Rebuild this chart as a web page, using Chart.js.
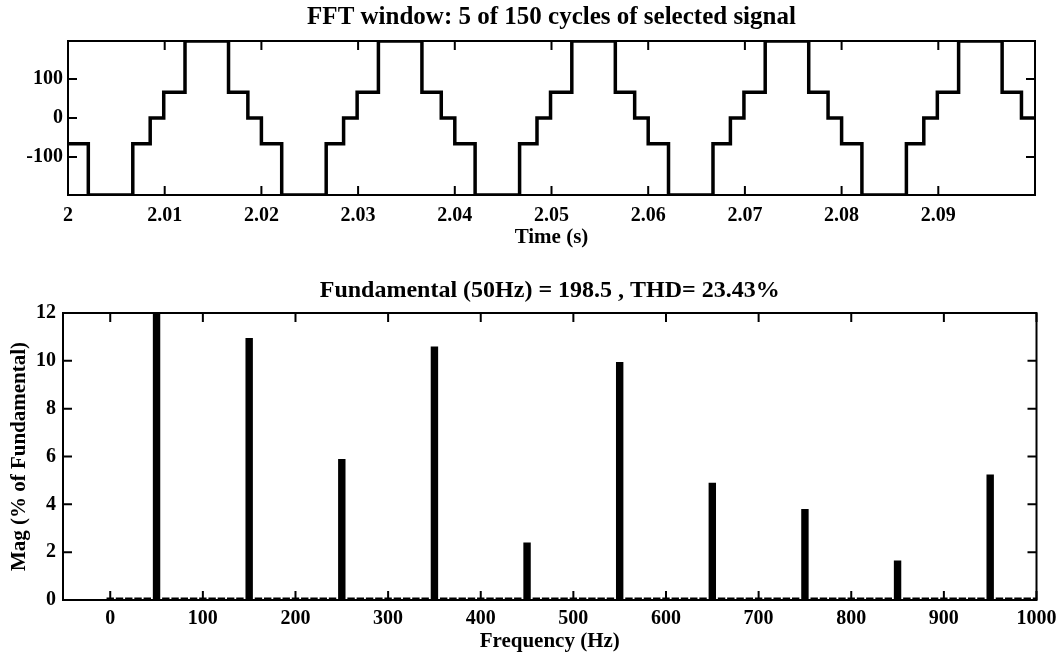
<!DOCTYPE html>
<html>
<head>
<meta charset="utf-8">
<title>FFT analysis</title>
<script src="https://cdn.jsdelivr.net/npm/chart.js@4.4.1/dist/chart.umd.min.js"></script>
<style>
    body { margin: 0; background: #fff; }
    canvas { position: absolute; left: 0; }
    #wave { top: 0; }
    #spectrum { top: 255px; }
</style>
</head>
<body>
<canvas id="wave" width="1063" height="255"></canvas>
<canvas id="spectrum" width="1063" height="400"></canvas>
<script>
// staircase signal: time of each switching edge (s) and the level it switches to
const edgeTimes = [
    2.0000, 2.0021, 2.0067, 2.0085, 2.0099, 2.0121, 2.0166, 2.0186,
    2.0200, 2.0221, 2.0267, 2.0285, 2.0299, 2.0321, 2.0366, 2.0386,
    2.0400, 2.0421, 2.0467, 2.0485, 2.0499, 2.0521, 2.0566, 2.0586,
    2.0600, 2.0621, 2.0667, 2.0685, 2.0699, 2.0721, 2.0766, 2.0786,
    2.0800, 2.0821, 2.0867, 2.0885, 2.0899, 2.0921, 2.0966, 2.0986,
    2.1000
];
const edgeLevels = [
    -66, -198, -66, 0, 66, 198, 66, 0,
    -66, -198, -66, 0, 66, 198, 66, 0,
    -66, -198, -66, 0, 66, 198, 66, 0,
    -66, -198, -66, 0, 66, 198, 66, 0,
    -66, -198, -66, 0, 66, 198, 66, 0,
    0
];
const timeTicks = [2, 2.01, 2.02, 2.03, 2.04, 2.05, 2.06, 2.07, 2.08, 2.09];
const timeTickLabels = ['2', '2.01', '2.02', '2.03', '2.04', '2.05', '2.06', '2.07', '2.08', '2.09'];
const levelTicks = [-100, 0, 100];

// spectrum: one value per 10 Hz bin from 0 to 1000 Hz, in % of fundamental
const binHz = 10;
const spectrumMag = [
    0.1, 0.1, 0.1, 0.1, 0.1, 100,   0.1, 0.1, 0.1, 0.1,
    0.1, 0.1, 0.1, 0.1, 0.1, 10.95, 0.1, 0.1, 0.1, 0.1,
    0.1, 0.1, 0.1, 0.1, 0.1, 5.9,   0.1, 0.1, 0.1, 0.1,
    0.1, 0.1, 0.1, 0.1, 0.1, 10.6,  0.1, 0.1, 0.1, 0.1,
    0.1, 0.1, 0.1, 0.1, 0.1, 2.4,   0.1, 0.1, 0.1, 0.1,
    0.1, 0.1, 0.1, 0.1, 0.1, 9.95,  0.1, 0.1, 0.1, 0.1,
    0.1, 0.1, 0.1, 0.1, 0.1, 4.9,   0.1, 0.1, 0.1, 0.1,
    0.1, 0.1, 0.1, 0.1, 0.1, 3.8,   0.1, 0.1, 0.1, 0.1,
    0.1, 0.1, 0.1, 0.1, 0.1, 1.65,  0.1, 0.1, 0.1, 0.1,
    0.1, 0.1, 0.1, 0.1, 0.1, 5.25,  0.1, 0.1, 0.1, 0.1,
    0.1
];
const freqTicks = [0, 100, 200, 300, 400, 500, 600, 700, 800, 900, 1000];
const freqTickLabels = ['0', '100', '200', '300', '400', '500', '600', '700', '800', '900', '1000'];
const magTicks = [0, 2, 4, 6, 8, 10, 12];

Chart.defaults.font.family = "'Liberation Serif', 'DejaVu Serif', serif";
Chart.defaults.font.size = 20;
Chart.defaults.font.weight = 'bold';
Chart.defaults.color = '#000';

const axisTitleFont = { size: 21, weight: 'bold' };

// matlab style frame: box round the plot, ticks pointing inwards on all sides
const frame = {
    id: 'frame',
    afterDatasetsDraw(chart) {
        const ctx = chart.ctx;
        const a = chart.chartArea;
        const x = chart.scales.x;
        const y = chart.scales.y;
        const len = 9;
        ctx.save();
        ctx.strokeStyle = '#000';
        ctx.lineWidth = 2;
        ctx.strokeRect(a.left, a.top, a.right - a.left, a.bottom - a.top);
        ctx.beginPath();
        x.ticks.forEach(t => {
            const px = x.getPixelForValue(t.value);
            ctx.moveTo(px, a.bottom); ctx.lineTo(px, a.bottom - len);
            ctx.moveTo(px, a.top); ctx.lineTo(px, a.top + len);
        });
        y.ticks.forEach(t => {
            const py = y.getPixelForValue(t.value);
            ctx.moveTo(a.left, py); ctx.lineTo(a.left + len, py);
            ctx.moveTo(a.right, py); ctx.lineTo(a.right - len, py);
        });
        ctx.stroke();
        ctx.restore();
    }
};

function fixedTicks(values) {
    return scale => { scale.ticks = values.map(v => ({ value: v })); };
}

new Chart(document.getElementById('wave'), {
    type: 'line',
    data: {
        datasets: [{
            data: edgeTimes.map((t, i) => ({ x: t, y: edgeLevels[i] })),
            stepped: true,
            borderColor: '#000',
            borderWidth: 3.5,
            pointRadius: 0
        }]
    },
    options: {
        responsive: false,
        animation: false,
        layout: { padding: { left: 0, right: 28, top: 0, bottom: 0 } },
        plugins: {
            legend: { display: false },
            tooltip: { enabled: false },
            title: {
                display: true,
                fullSize: false,
                text: 'FFT window: 5 of 150 cycles of selected signal',
                font: { size: 25, weight: 'bold' },
                padding: { top: 2.5, bottom: 8.5 }
            }
        },
        scales: {
            x: {
                type: 'linear',
                min: 2,
                max: 2.1,
                afterBuildTicks: fixedTicks(timeTicks),
                afterFit: s => { s.height = 60; },
                grid: { display: false, drawTicks: false },
                border: { display: false },
                ticks: { padding: 8.5, maxRotation: 0, callback: (v, i) => timeTickLabels[i] },
                title: { display: true, text: 'Time (s)', font: axisTitleFont, padding: { top: 0, bottom: 4.4 } }
            },
            y: {
                min: -198,
                max: 198,
                afterBuildTicks: fixedTicks(levelTicks),
                afterFit: s => { s.width = 68; },
                grid: { display: false, drawTicks: false },
                border: { display: false },
                ticks: { padding: 5 }
            }
        }
    },
    plugins: [frame]
});

new Chart(document.getElementById('spectrum'), {
    type: 'bar',
    data: {
        datasets: [{
            data: spectrumMag.map((m, i) => ({ x: i * binHz, y: m })),
            backgroundColor: '#000',
            borderWidth: 0,
            barPercentage: 0.8,
            categoryPercentage: 1
        }]
    },
    options: {
        responsive: false,
        animation: false,
        layout: { padding: { left: 0, right: 24, top: 0, bottom: 0 } },
        plugins: {
            legend: { display: false },
            tooltip: { enabled: false },
            title: {
                display: true,
                fullSize: false,
                text: 'Fundamental (50Hz) = 198.5 , THD= 23.43%',
                font: { size: 24, weight: 'bold' },
                padding: { top: 21.1, bottom: 8.1 }
            }
        },
        scales: {
            x: {
                type: 'linear',
                min: -51,
                max: 1000,
                offset: false,
                afterBuildTicks: fixedTicks(freqTicks),
                afterFit: s => { s.height = 55; },
                grid: { display: false, drawTicks: false, offset: false },
                border: { display: false },
                ticks: { padding: 6.5, maxRotation: 0, callback: (v, i) => freqTickLabels[i] },
                title: { display: true, text: 'Frequency (Hz)', font: axisTitleFont, padding: { top: 0, bottom: 0.4 } }
            },
            y: {
                min: 0,
                max: 12,
                afterBuildTicks: fixedTicks(magTicks),
                afterFit: s => { s.width = 63; },
                grid: { display: false, drawTicks: false },
                border: { display: false },
                ticks: { padding: 7 },
                title: { display: true, text: 'Mag (% of Fundamental)', font: axisTitleFont, padding: { top: 7.4, bottom: 0 } }
            }
        }
    },
    plugins: [frame]
});
</script>
</body>
</html>
